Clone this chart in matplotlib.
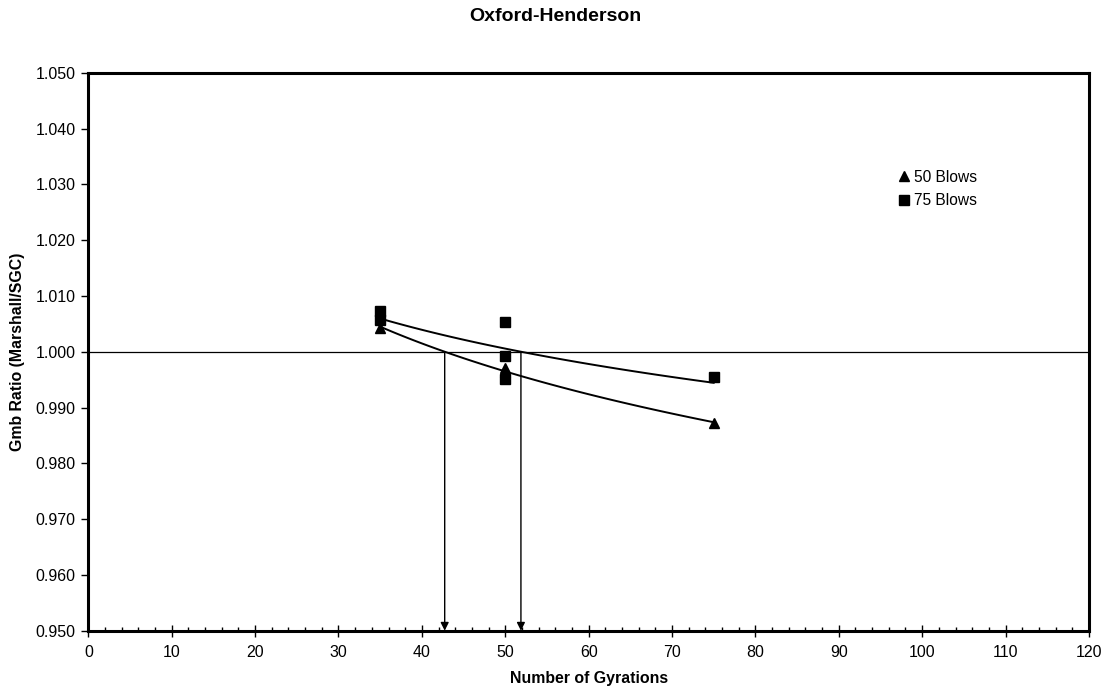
"""Gmb ratio vs number of gyrations, Oxford-Henderson"""
from matplotlib import pyplot as plt
from matplotlib.ticker import MultipleLocator, FormatStrFormatter
import numpy as np

plt.rcParams['font.family'] = ['Liberation Sans', 'DejaVu Sans']

# 50 blow Marshall specimens
gyr_50 = [35, 50, 50, 75]
ratio_50 = [1.0043, 0.9970, 0.9963, 0.9872]

# 75 blow Marshall specimens
gyr_75 = [35, 35, 50, 50, 50, 75]
ratio_75 = [1.0073, 1.0057, 1.0053, 0.9992, 0.9951, 0.9954]

fig = plt.figure(figsize=(11.1, 6.94), dpi=100)
ax = fig.add_axes([0.0796, 0.0912, 0.9014, 0.804])

ax.axhline(1.0, color="black", lw=0.9, zorder=1)

for gx, gy, mk, ms, lab in [
    (gyr_50, ratio_50, "^", 7, "50 Blows"),
    (gyr_75, ratio_75, "s", 6.5, "75 Blows"),
]:
    gx = np.array(gx, dtype=float)
    gy = np.array(gy)
    # logarithmic trend line, same as the spreadsheet one
    b, a = np.polyfit(np.log(gx), gy, 1)
    xs = np.linspace(gx.min(), gx.max(), 100)
    ax.plot(xs, a + b * np.log(xs), color="black", lw=1.4, zorder=2)
    ax.plot(gx, gy, ls="none", marker=mk, ms=ms, color="black",
            label=lab, zorder=3)
    # where the trend crosses 1.000
    xc = np.exp((1.0 - a) / b)
    ax.annotate("", xy=(xc, 0.950), xytext=(xc, 1.0),
                arrowprops=dict(arrowstyle="-|>", color="black", lw=1.0,
                                mutation_scale=12, shrinkA=0, shrinkB=0),
                zorder=2)

ax.set_xlim(0, 120)
ax.set_ylim(0.950, 1.050)
ax.xaxis.set_major_locator(MultipleLocator(10))
ax.xaxis.set_minor_locator(MultipleLocator(2))
ax.yaxis.set_major_locator(MultipleLocator(0.01))
ax.yaxis.set_major_formatter(FormatStrFormatter("%.3f"))

for s in ax.spines.values():
    s.set_linewidth(2.2)
ax.tick_params(axis="x", which="major", direction="inout", length=8,
               width=1, labelsize=11.5, pad=6)
ax.tick_params(axis="x", which="minor", direction="in", length=3, width=1)
ax.tick_params(axis="y", which="major", direction="out", length=5,
               width=1, labelsize=11.5, pad=4)

ax.set_xlabel("Number of Gyrations", fontsize=11.4, fontweight="bold",
              labelpad=8)
ax.set_ylabel("Gmb Ratio (Marshall/SGC)", fontsize=11.4, fontweight="bold",
              labelpad=8)
fig.suptitle("Oxford-Henderson", fontsize=14, fontweight="bold", y=0.988)

ax.legend(loc="upper left", bbox_to_anchor=(0.803, 0.84), frameon=False,
          fontsize=11.2, handlelength=0.6, handletextpad=0.3,
          labelspacing=0.55, borderpad=0)

plt.savefig("out.png")
